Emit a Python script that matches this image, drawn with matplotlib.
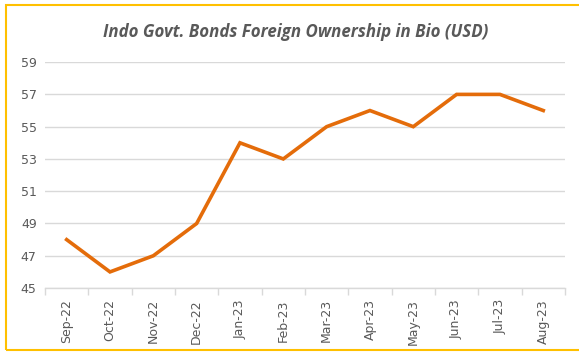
import matplotlib
matplotlib.use("Agg")
import matplotlib.pyplot as plt
from matplotlib.patches import Rectangle

months = ["Sep-22", "Oct-22", "Nov-22", "Dec-22", "Jan-23", "Feb-23",
          "Mar-23", "Apr-23", "May-23", "Jun-23", "Jul-23", "Aug-23"]
ownership = [48, 46, 47, 49, 54, 53, 55, 56, 55, 57, 57, 56]
yticks = [45, 47, 49, 51, 53, 55, 57, 59]

fig = plt.figure(figsize=(5.79, 3.53), dpi=100)
ax = fig.add_axes([0.0777, 0.184, 0.898, 0.640])

x = list(range(len(months)))
ax.plot(x, ownership, color="#E46C0A", linewidth=2.6, solid_joinstyle="miter", zorder=3)

ax.set_xlim(-0.5, len(months) - 0.5)
ax.set_ylim(45, 59)
ax.set_yticks(yticks)
ax.set_yticklabels([str(v) for v in yticks])
ax.set_xticks(x)
ax.set_xticklabels(months, rotation=90)
ax.set_xticks([i - 0.5 for i in range(len(months) + 1)], minor=True)

ax.grid(axis="y", color="#D9D9D9", linewidth=1.0, zorder=0)
for s in ["top", "right", "left"]:
    ax.spines[s].set_visible(False)
ax.spines["bottom"].set_color("#D9D9D9")
ax.spines["bottom"].set_linewidth(1.0)

ax.tick_params(axis="y", length=0, labelsize=9, labelcolor="#595959", pad=6)
ax.tick_params(axis="x", which="major", length=0, labelsize=9, labelcolor="#595959", pad=8)
ax.tick_params(axis="x", which="minor", length=5, color="#D9D9D9", width=1.0)

fig.text(296 / 579, 0.91, "Indo Govt. Bonds Foreign Ownership in Bio (USD)",
         ha="center", va="center", fontsize=12.2, fontstyle="italic",
         fontweight="bold", color="#595959", family="Open Sans")

border = Rectangle((6 / 579, 3 / 353), 1.02, 1 - 8 / 353, transform=fig.transFigure,
                   fill=False, edgecolor="#FFC000", linewidth=1.5, clip_on=False)
fig.patches.append(border)

fig.savefig("out.png", dpi=100)
